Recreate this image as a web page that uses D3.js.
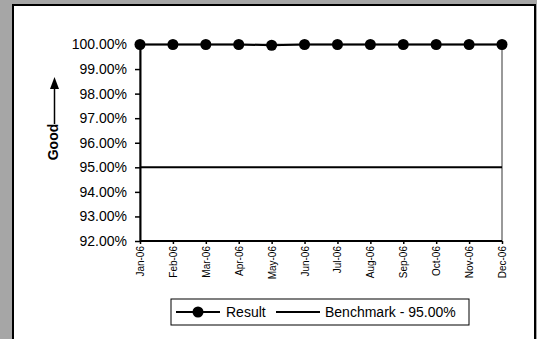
<!DOCTYPE html>
<html><head><meta charset="utf-8">
<script src="https://cdn.jsdelivr.net/npm/d3@7"></script>
<style>html,body{margin:0;padding:0;background:#a6a6a6;overflow:hidden}</style>
</head><body>
<script>
const months = ["Jan-06","Feb-06","Mar-06","Apr-06","May-06","Jun-06","Jul-06","Aug-06","Sep-06","Oct-06","Nov-06","Dec-06"];
const resultValues = [1.0,1.0,1.0,1.0,0.9997,1.0,1.0,1.0,1.0,1.0,1.0,1.0];
const benchmarkValue = 0.95;
const yTicks = [0.92,0.93,0.94,0.95,0.96,0.97,0.98,0.99,1.0];
const legendLabels = ["Result","Benchmark - 95.00%"];

const W = 537, H = 339;
const svg = d3.select("body").append("svg").attr("width",W).attr("height",H);
svg.append("rect").attr("width",W).attr("height",H).attr("fill","#a6a6a6");
svg.append("rect").attr("x",13).attr("y",5).attr("width",522).attr("height",H).attr("fill","#fff").attr("stroke","#000").attr("stroke-width",2);

const x0 = 140, x1 = 502, yTop = 44.5, yBot = 241;
const x = d3.scalePoint().domain(months).range([x0,x1]);
const y = d3.scaleLinear().domain([0.92,1.0]).range([yBot,yTop]);

// plot area border (gray)
svg.append("rect").attr("x",x0).attr("y",yTop).attr("width",x1-x0).attr("height",yBot-yTop)
  .attr("fill","none").attr("stroke","#999").attr("stroke-width",2);

// benchmark
svg.append("line").attr("x1",x0).attr("x2",x1).attr("y1",y(benchmarkValue)).attr("y2",y(benchmarkValue))
  .attr("stroke","#000").attr("stroke-width",2);

// y axis
const yAxis = d3.axisLeft(y).tickValues(yTicks).tickFormat(d3.format(".2%")).tickSize(5).tickSizeOuter(0);
const gy = svg.append("g").attr("transform",`translate(${x0},0)`).call(yAxis);
gy.select(".domain").attr("stroke","#000").attr("stroke-width",2);
gy.selectAll(".tick line").attr("stroke","#000").attr("stroke-width",1.5);
gy.selectAll("text").attr("font-family","Arial, 'Liberation Sans', sans-serif").attr("font-size","14px").attr("fill","#000").attr("x",-13);

// x axis
const xAxis = d3.axisBottom(x).tickSize(3).tickSizeOuter(0);
const gx = svg.append("g").attr("transform",`translate(0,${yBot})`).call(xAxis);
gx.select(".domain").attr("stroke","#000").attr("stroke-width",2).attr("d",`M${x0},0H${x1}`);
gx.selectAll(".tick line").attr("stroke","#000").attr("stroke-width",1.5);
gx.selectAll("text").attr("font-family","Arial, 'Liberation Sans', sans-serif").attr("font-size","10px").attr("fill","#000")
  .attr("transform","rotate(-90)").attr("text-anchor","end").attr("x",-5).attr("y",0).attr("dy","0.35em");

// result line
const line = d3.line().x((d,i)=>x(months[i])).y(d=>y(d));
svg.append("path").datum(resultValues).attr("d",line).attr("fill","none").attr("stroke","#000").attr("stroke-width",2);
svg.selectAll("circle.pt").data(resultValues).enter().append("circle").attr("class","pt")
  .attr("cx",(d,i)=>x(months[i])).attr("cy",d=>y(d)).attr("r",5.5).attr("fill","#000");

// Good label with arrow
svg.append("text").attr("transform","translate(58,142) rotate(-90)").attr("text-anchor","middle")
  .attr("font-family","Arial, 'Liberation Sans', sans-serif").attr("font-weight","bold").attr("font-size","14px").text("Good");
svg.append("line").attr("x1",54.5).attr("x2",54.5).attr("y1",124).attr("y2",88).attr("stroke","#000").attr("stroke-width",1.5);
svg.append("path").attr("d","M54.5,77 L50,89 L59,89 Z").attr("fill","#000");

// legend
const lg = svg.append("g");
lg.append("rect").attr("x",171).attr("y",299).attr("width",298).attr("height",26).attr("fill","#fff").attr("stroke","#000").attr("stroke-width",1);
const ly = 312;
lg.append("line").attr("x1",176).attr("x2",220).attr("y1",ly).attr("y2",ly).attr("stroke","#000").attr("stroke-width",2);
lg.append("circle").attr("cx",198).attr("cy",ly).attr("r",5.5).attr("fill","#000");
lg.append("text").attr("x",226).attr("y",ly).attr("dy","0.35em").attr("font-family","Arial, 'Liberation Sans', sans-serif").attr("font-size","14px").text(legendLabels[0]);
lg.append("line").attr("x1",276).attr("x2",320).attr("y1",ly).attr("y2",ly).attr("stroke","#000").attr("stroke-width",2);
lg.append("text").attr("x",325).attr("y",ly).attr("dy","0.35em").attr("font-family","Arial, 'Liberation Sans', sans-serif").attr("font-size","14px").text(legendLabels[1]);
</script>
</body></html>
